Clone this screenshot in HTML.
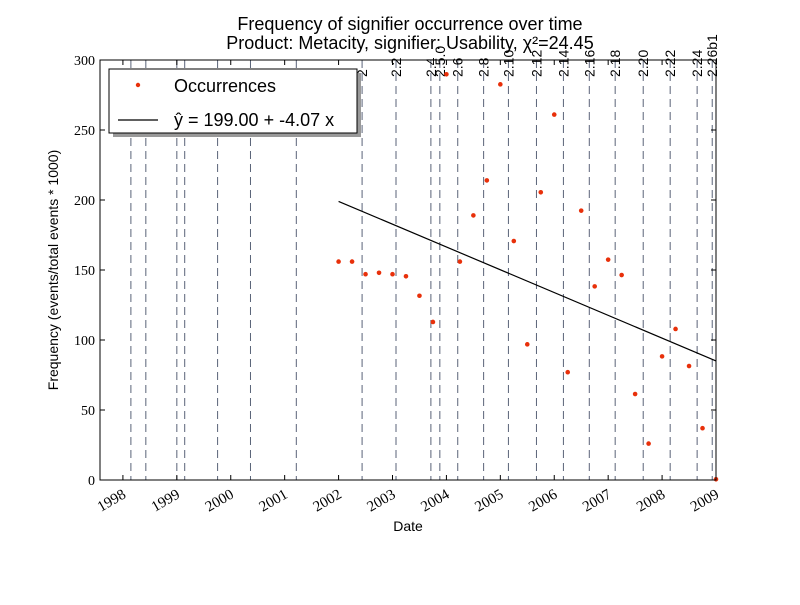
<!DOCTYPE html>
<html><head><meta charset="utf-8"><style>
body{margin:0;background:#fff;}
svg text{font-family:"Liberation Sans",sans-serif;}
.serif{font-family:"Liberation Serif","DejaVu Serif",serif !important;}
</style></head><body>
<svg id="chart" width="800" height="600" xmlns="http://www.w3.org/2000/svg">
<rect width="800" height="600" fill="#fff"/>
<text x="410" y="30" font-size="18" text-anchor="middle">Frequency of signifier occurrence over time</text>
<text x="410" y="49" font-size="18" text-anchor="middle">Product: Metacity, signifier: Usability, χ²=24.45</text>
<g id="plot"></g>
<text x="408" y="531" font-size="14" text-anchor="middle">Date</text>
<text transform="translate(58,270) rotate(-90)" font-size="14" text-anchor="middle">Frequency (events/total events * 1000)</text>
<g>
<rect x="113" y="73" width="248" height="64" fill="#999"/>
<rect x="109" y="69" width="248" height="64" fill="#fff" stroke="#000" stroke-width="1"/>
<circle cx="138" cy="85" r="2.2" fill="#e8300a"/>
<text x="174" y="92" font-size="18">Occurrences</text>
<line x1="118" y1="120" x2="158" y2="120" stroke="#000" stroke-width="1.2"/>
<text x="174" y="126" font-size="18">ŷ = 199.00 + -4.07 x</text>
</g>
</svg>
<script>
const yTicks=[0,50,100,150,200,250,300];
const years=[1998,1999,2000,2001,2002,2003,2004,2005,2006,2007,2008,2009];
const values=[156,156,147,148,147,145.5,131.6,112.9,289.8,156,189,214,282.6,170.7,96.9,205.5,261,77,192.4,138.3,157.4,146.4,61.4,26,88.3,107.9,81.4,37,0.5];
const startYear=2002.0;
const stepYears=0.25;
const fitIntercept=199.0;
const fitSlope=-4.07;
const releaseDates=[1998.148,1998.425,1999.0,1999.146,1999.756,2000.366,2001.216,2002.436,2003.065,2003.712,2003.878,2004.21,2004.69,2005.15,2005.67,2006.17,2006.65,2007.13,2007.65,2008.15,2008.65,2008.93];
const releaseLabels=["","","","","","","","2","2.2","2.4","2.5.0","2.6","2.8","2.10","2.12","2.14","2.16","2.18","2.20","2.22","2.24","2.26b1"];

const L=100,R=716,T=60,B=480,x0=1997.575,x1=2009.0;
const X=v=>L+(v-x0)/(x1-x0)*(R-L);
const Y=v=>B-(v/300)*(B-T);
const NS="http://www.w3.org/2000/svg";
const g=document.getElementById('plot');
function mk(t,a,p){const e=document.createElementNS(NS,t);for(const k in a)e.setAttribute(k,a[k]);(p||g).appendChild(e);return e;}

releaseDates.forEach((d,i)=>{
  const l=mk('line',{x1:X(d),x2:X(d),y1:T,y2:B,stroke:'#5a6378','stroke-width':1,'stroke-dasharray':'8,5'});
  
  
  if(releaseLabels[i]){
    const t=mk('text',{transform:`translate(${X(d)+5},77) rotate(-90)`,'font-size':14});
    t.textContent=releaseLabels[i];
    
    
  }
});

const fx0=X(startYear),fx1=X(startYear+(values.length-1)*stepYears);
const fit=mk('line',{x1:fx0,y1:Y(fitIntercept),x2:fx1,y2:Y(fitIntercept+fitSlope*(values.length-1)),stroke:'#000','stroke-width':1.2});



values.forEach((v,i)=>{
  const c=mk('circle',{cx:X(startYear+i*stepYears),cy:Y(v),r:2.3,fill:'#e8300a'});
  
  
});

const frame=mk('rect',{x:L,y:T,width:R-L,height:B-T,fill:'none',stroke:'#000','stroke-width':1});



yTicks.forEach(v=>{
  mk('line',{x1:L,x2:L+5,y1:Y(v),y2:Y(v),stroke:'#000'});
  mk('line',{x1:R,x2:R-5,y1:Y(v),y2:Y(v),stroke:'#000'});
  const t=mk('text',{x:L-5,y:Y(v)+5,'font-size':14,'text-anchor':'end',class:'serif'});
  t.textContent=v;
  
  
});
years.forEach(yr=>{
  const x=X(yr);
  mk('line',{x1:x,x2:x,y1:B,y2:B-5,stroke:'#000'});
  mk('line',{x1:x,x2:x,y1:T,y2:T+5,stroke:'#000'});
  const t=mk('text',{transform:`translate(${x+4},${B+17}) rotate(-30)`,'font-size':15,'text-anchor':'end',class:'serif'});
  t.textContent=yr;
  
  
});
</script>
</body></html>
